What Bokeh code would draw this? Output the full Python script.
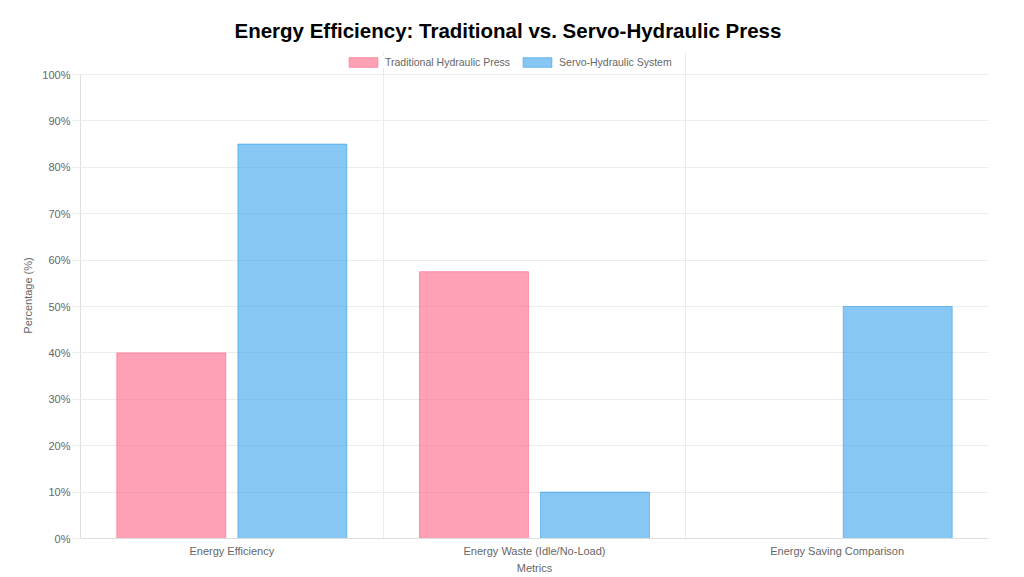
from bokeh.embed import file_html
from bokeh.resources import INLINE
from bokeh.models import (ColumnDataSource, FactorRange, Range1d, Grid, FixedTicker,
                          PrintfTickFormatter, Legend, LegendItem)
from bokeh.plotting import figure
from bokeh.transform import dodge

categories = ["Energy Efficiency", "Energy Waste (Idle/No-Load)", "Energy Saving Comparison"]
traditional = [40, 57.5, None]
servo = [85, 10, 50]
y_ticks = [0, 10, 20, 30, 40, 50, 60, 70, 80, 90, 100]

pink = "#ff6384"
blue = "#36a2eb"
FONT = "Liberation Sans"

# layout: the frame reaches a little above 100% so the legend can sit there
FRAME_H = 486
LEGEND_ROOM = 22
y_end = 100 * FRAME_H / (FRAME_H - LEGEND_ROOM)

src = ColumnDataSource(data=dict(cat=categories, trad=traditional, servo=servo))

p = figure(x_range=FactorRange(factors=categories, range_padding=0), y_range=Range1d(0, y_end),
           frame_width=908, frame_height=FRAME_H, output_backend="svg", toolbar_location=None,
           min_border_left=80, min_border_right=36, min_border_top=52, min_border_bottom=39)
p.outline_line_color = None
p.background_fill_color = "white"

p.title.text = "Energy Efficiency: Traditional vs. Servo-Hydraulic Press"
p.title.text_font = FONT
p.title.text_font_size = "20.5px"
p.title.text_color = "#000000"
p.title.align = "left"
p.title.offset = 154
p.title.standoff = 22

r1 = p.vbar(x=dodge("cat", -0.2, range=p.x_range), top="trad", width=0.36, source=src,
            fill_color=pink, fill_alpha=0.6, line_color=pink, line_alpha=0.6, line_width=1)
r2 = p.vbar(x=dodge("cat", 0.2, range=p.x_range), top="servo", width=0.36, source=src,
            fill_color=blue, fill_alpha=0.6, line_color=blue, line_alpha=0.6, line_width=1)

# y axis
p.yaxis.ticker = FixedTicker(ticks=y_ticks)
p.yaxis.bounds = (0, 100)
p.yaxis.formatter = PrintfTickFormatter(format="%d%%")
p.yaxis.axis_label = "Percentage (%)"
p.yaxis.major_tick_out = 8
p.yaxis.major_tick_in = 0
p.yaxis.major_tick_line_color = "#ececec"
p.yaxis.minor_tick_line_color = None
p.yaxis.major_label_standoff = 2
p.yaxis.axis_label_standoff = 5

# x axis
p.xaxis.axis_label = "Metrics"
p.xaxis.major_tick_out = 0
p.xaxis.major_tick_in = 0
p.xaxis.major_tick_line_color = None
p.xaxis.major_label_standoff = 6
p.xaxis.axis_label_standoff = 2

for ax in (p.xaxis, p.yaxis):
    ax.axis_line_color = "#dedede"
    ax.major_label_text_font = FONT
    ax.major_label_text_font_size = "11px"
    ax.major_label_text_color = "#666666"
    ax.axis_label_text_font = FONT
    ax.axis_label_text_font_size = "11px"
    ax.axis_label_text_font_style = "normal"
    ax.axis_label_text_color = "#666666"

p.ygrid.grid_line_color = "#ececec"
p.xgrid.visible = False

# vertical grid lines sit on the category boundaries (synthetic coords 0..n)
p.add_layout(Grid(dimension=0, ticker=FixedTicker(ticks=list(range(len(categories) + 1))),
                  grid_line_color="#ececec"))

legend = Legend(items=[LegendItem(label="Traditional Hydraulic Press", renderers=[r1]),
                       LegendItem(label="Servo-Hydraulic System", renderers=[r2])],
                orientation="horizontal", location=(265, FRAME_H - 16),
                glyph_width=36, glyph_height=12, label_text_font=FONT,
                label_text_font_size="10.5px", label_text_color="#666666",
                label_standoff=4, label_height=12, spacing=9, padding=2, margin=0,
                border_line_color=None, background_fill_color="white", background_fill_alpha=1)
p.add_layout(legend, "center")

open("out.html", "w").write(file_html(p, INLINE))
